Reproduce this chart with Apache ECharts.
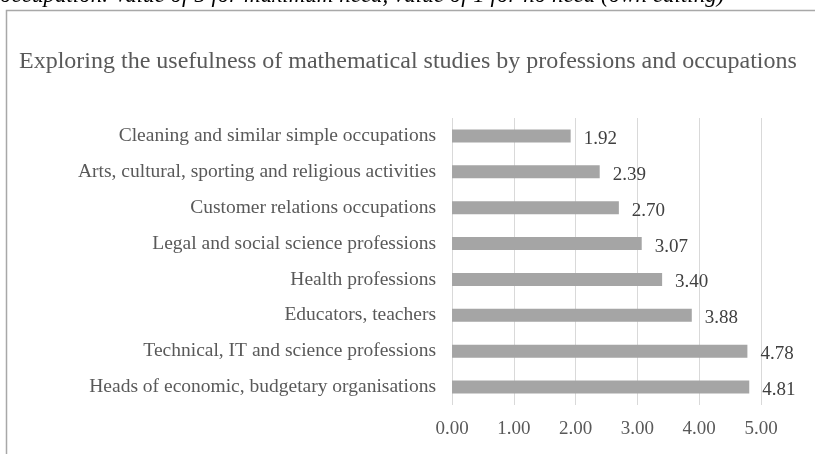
<!DOCTYPE html>
<html>
<head>
<meta charset="utf-8">
<script src="https://cdn.jsdelivr.net/npm/echarts@6/dist/echarts.min.js"></script>
<style>
  html, body { margin: 0; padding: 0; background: #fff; }
  #chart { width: 815px; height: 454px; }
</style>
</head>
<body>
<div id="chart"></div>
<script>
// Occupations, top to bottom
const categories = [
  'Cleaning and similar simple occupations',
  'Arts, cultural, sporting and religious activities',
  'Customer relations occupations',
  'Legal and social science professions',
  'Health professions',
  'Educators, teachers',
  'Technical, IT and science professions',
  'Heads of economic, budgetary organisations'
];
// Mean need for mathematical studies (1 = no need, 5 = maximum need)
const values = [1.92, 2.39, 2.70, 3.07, 3.40, 3.88, 4.78, 4.81];
const axisTicks = [0, 1, 2, 3, 4, 5];

const serif = '"Liberation Serif", "Times New Roman", serif';

const chart = echarts.init(document.getElementById('chart'), null, { renderer: 'canvas' });
chart.setOption({
  animation: false,
  backgroundColor: '#ffffff',
  graphic: [
    {
      type: 'text',
      left: 0, top: -16,
      style: {
        text: 'occupation. Value of 5 for maximum need, value of 1 for no need (own editing)',
        font: 'italic 23px ' + serif,
        fill: '#000000'
      }
    },
    {
      type: 'rect',
      shape: { x: 6.5, y: 10.5, width: 830, height: 470 },
      style: { fill: 'none', stroke: '#a8a8a8', lineWidth: 1.5 }
    },
    {
      type: 'text',
      left: 19, top: 50,
      style: {
        text: 'Exploring the usefulness of mathematical studies by professions and occupations',
        font: '24px ' + serif,
        fill: '#595959'
      }
    }
  ],
  grid: { left: 452, right: 54, top: 118, bottom: 49, containLabel: false },
  xAxis: {
    type: 'value',
    min: axisTicks[0],
    max: axisTicks[axisTicks.length - 1],
    interval: 1,
    axisLine: { show: false },
    axisTick: { show: false },
    splitLine: { show: true, lineStyle: { color: '#d9d9d9', width: 1 } },
    axisLabel: {
      formatter: v => v.toFixed(2),
      fontFamily: serif, fontSize: 19, color: '#595959', margin: 15
    }
  },
  yAxis: {
    type: 'category',
    data: categories,
    inverse: true,
    axisLine: { show: false },
    axisTick: { show: false },
    axisLabel: { fontFamily: serif, fontSize: 19.5, color: '#595959', margin: 16 }
  },
  series: [{
    type: 'bar',
    data: values,
    barWidth: 13,
    itemStyle: { color: '#a5a5a5' },
    label: {
      show: true,
      position: 'right',
      distance: 13,
      offset: [0, 3],
      formatter: p => p.value.toFixed(2),
      fontFamily: serif, fontSize: 19, color: '#404040'
    }
  }]
});
</script>
</body>
</html>
